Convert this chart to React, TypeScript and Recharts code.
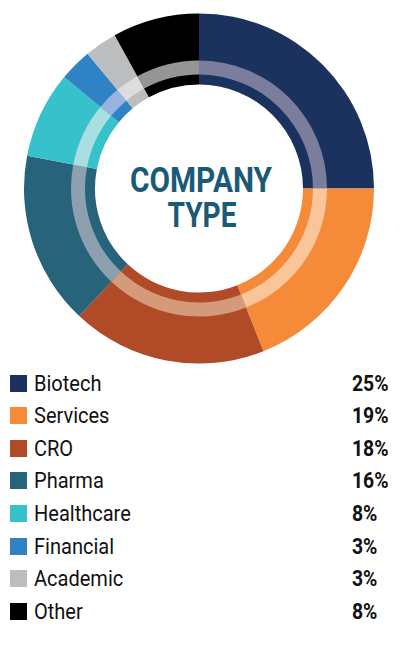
import React from 'react';
import { PieChart, Pie, Cell } from 'recharts';

const categories = ['Biotech', 'Services', 'CRO', 'Pharma', 'Healthcare', 'Financial', 'Academic', 'Other'];
const shares = [25, 19, 18, 16, 8, 3, 3, 8];
const colors = ['#1b325e', '#f58a39', '#b14a26', '#27637a', '#37c2cb', '#2f82c4', '#bcbdbf', '#000000'];
const tints = ['#7b7d9c', '#fbc59a', '#d59a7a', '#8da0b0', '#a9dfe1', '#97b4e0', '#dcdddf', '#959595'];
const titleLines = ['COMPANY', 'TYPE'];

const data = categories.map((name, i) => ({ name, value: shares[i] }));

const CX = 199;
const CY = 188.5;

const App: React.FC = () => {
  return (
    <div style={{ position: 'absolute', left: 0, top: 0, width: 400, height: 650, background: '#fff' }}>
      <PieChart width={400} height={370} margin={{ top: 0, right: 0, bottom: 0, left: 0 }}>
        <Pie
          data={data}
          dataKey="value"
          cx={CX}
          cy={CY}
          innerRadius={104}
          outerRadius={175}
          startAngle={90}
          endAngle={-270}
          stroke="none"
          isAnimationActive={false}
        >
          {data.map((entry, index) => (
            <Cell key={`cell-${index}`} fill={colors[index]} />
          ))}
        </Pie>
        <Pie
          data={data}
          dataKey="value"
          cx={CX}
          cy={CY}
          innerRadius={114}
          outerRadius={128}
          startAngle={90}
          endAngle={-270}
          stroke="none"
          isAnimationActive={false}
        >
          {data.map((entry, index) => (
            <Cell key={`tint-${index}`} fill={tints[index]} />
          ))}
        </Pie>
        <g fontFamily="Roboto, sans-serif" fontWeight={700} fill="#1b5a77" textAnchor="middle">
          <text x={CX + 2} y={CY + 3.5} fontSize={35} textLength={142} lengthAdjust="spacingAndGlyphs">
            {titleLines[0]}
          </text>
          <text x={CX + 3} y={CY + 38.5} fontSize={35} textLength={69} lengthAdjust="spacingAndGlyphs">
            {titleLines[1]}
          </text>
        </g>
      </PieChart>
      {categories.map((name, i) => (
        <div
          key={name}
          style={{
            position: 'absolute',
            left: 0,
            top: 372.5 + i * 32.6,
            width: 400,
            height: 21,
            display: 'flex',
            alignItems: 'center',
            fontFamily: 'Roboto, sans-serif',
            fontSize: 22,
            lineHeight: '21px',
            color: '#111',
          }}
        >
          <div style={{ position: 'absolute', left: 10, top: 2, width: 17, height: 17, background: colors[i] }} />
          <span style={{ position: 'absolute', left: 34, transform: 'scaleX(0.91)', transformOrigin: 'left center' }}>
            {name}
          </span>
          <span
            style={{
              position: 'absolute',
              left: 352,
              fontWeight: 700,
              transform: 'scaleX(0.88)',
              transformOrigin: 'left center',
            }}
          >
            {shares[i]}%
          </span>
        </div>
      ))}
    </div>
  );
};

export default App;
